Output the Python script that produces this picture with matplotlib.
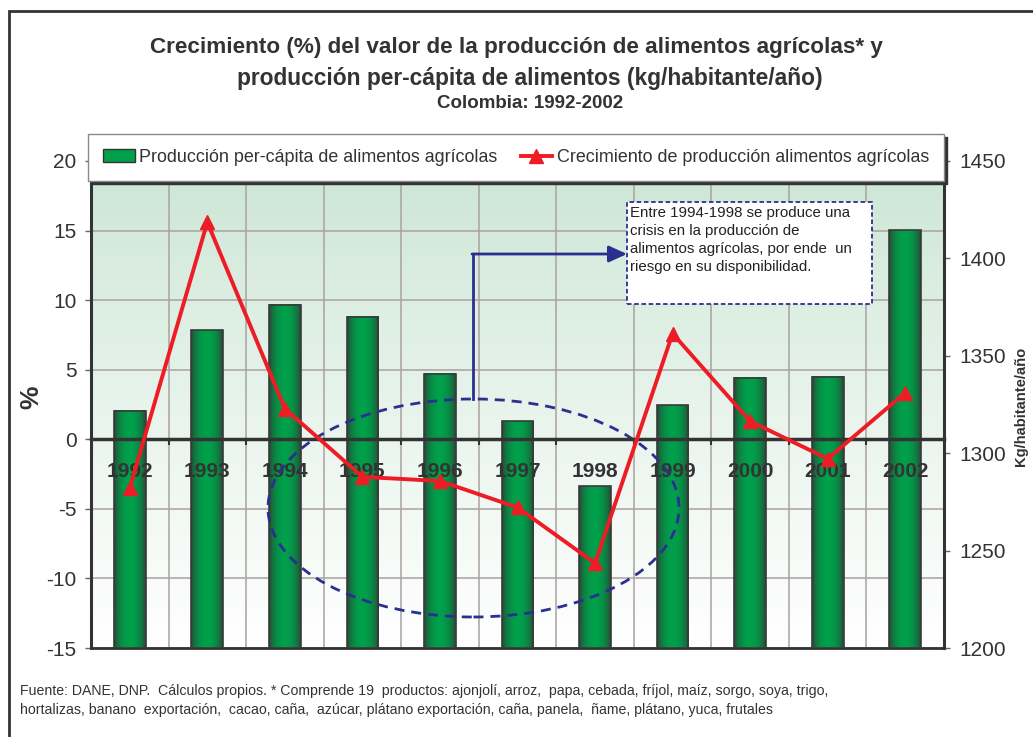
import numpy as np
import matplotlib.pyplot as plt
from matplotlib.patches import Rectangle, Ellipse, Patch
from matplotlib.lines import Line2D
from matplotlib.colors import to_rgb

plt.rcParams['font.family'] = ['Liberation Sans', 'DejaVu Sans']
plt.rcParams['axes.unicode_minus'] = False

# data
years = ['1992', '1993', '1994', '1995', '1996', '1997', '1998', '1999', '2000', '2001', '2002']
kg_per_capita = [1321.8, 1363.2, 1376.2, 1370.0, 1340.8, 1316.3, 1283.1, 1324.6, 1338.7, 1339.2, 1414.4]
growth_pct = [-3.5, 15.6, 2.2, -2.7, -3.0, -4.9, -8.9, 7.6, 1.3, -1.4, 3.35]

pct_ticks = list(range(-15, 21, 5))
kg_ticks = list(range(1200, 1451, 50))

title1 = 'Crecimiento (%) del valor de la producción de alimentos agrícolas* y'
title2 = 'producción per-cápita de alimentos (kg/habitante/año)'
subtitle = 'Colombia: 1992-2002'
bar_label = 'Producción per-cápita de alimentos agrícolas'
line_label = 'Crecimiento de producción alimentos agrícolas'
note = ('Entre 1994-1998 se produce una\ncrisis en la producción de\n'
        'alimentos agrícolas, por ende  un\nriesgo en su disponibilidad.')
source1 = ('Fuente: DANE, DNP.  Cálculos propios. * Comprende 19  productos: ajonjolí, arroz,  papa, '
           'cebada, fríjol, maíz, sorgo, soya, trigo,')
source2 = ('hortalizas, banano  exportación,  cacao, caña,  azúcar, plátano exportación, caña, panela,  '
           'ñame, plátano, yuca, frutales')

DARK = '#333333'
GREEN = '#00a04b'
RED = '#ee1c25'
NAVY = '#2b2f8f'

W, H = 1033, 737
fig = plt.figure(figsize=(W / 100, H / 100), dpi=100)


def fx(px):
    return px / W


def fy(py):
    return 1 - py / H


x = np.arange(len(years))

# --- bottom axes: % scale, background, grid
ax = fig.add_axes([fx(91), fy(648), fx(944) - fx(91), fy(161) - fy(648)])
t = np.linspace(0, 1, 256)[:, None] ** 0.85
grad = np.array(to_rgb('#cae5d3')) * (1 - t) + np.ones(3) * t
ax.imshow(grad.reshape(256, 1, 3), extent=[0, 1, 0, 1], transform=ax.transAxes,
          aspect='auto', zorder=-1)
ax.set_xlim(-0.5, len(years) - 0.5)
ax.set_ylim(-15, 20)
ax.set_yticks(pct_ticks)
ax.set_xticks([])
ax.set_xticks(np.arange(0.5, len(years) - 1, 1), minor=True)
ax.grid(axis='y', which='major', color='#aaa29e', lw=1.1)
ax.grid(axis='x', which='minor', color='#aaa29e', lw=1.1)
ax.set_axisbelow(True)
ax.tick_params(axis='x', which='both', bottom=False, labelbottom=False)
ax.tick_params(axis='y', length=4.3, width=1, color='#666', pad=6, labelsize=15, labelcolor=DARK)
ax.spines['top'].set_visible(False)
ax.spines['right'].set_visible(False)
ax.spines['left'].set(color=DARK, lw=2.2)
ax.spines['bottom'].set(color=DARK, lw=2)

# --- bars on the secondary (kg) axis
ax2 = ax.twinx()
bars = ax2.bar(x, np.array(kg_per_capita) - 1200, bottom=1200, width=0.41,
               facecolor='none', edgecolor='#3a3a3a', lw=1.2, zorder=3)
tt = np.linspace(0, 1, 64)
f = np.sin(np.pi * tt) ** 0.55
bar_grad = (np.array(to_rgb('#2e3a33'))[None, :] * (1 - f[:, None])
            + np.array(to_rgb(GREEN))[None, :] * f[:, None])
for b in bars:
    ax2.imshow(bar_grad.reshape(1, 64, 3), aspect='auto', interpolation='bilinear', zorder=2,
               extent=[b.get_x(), b.get_x() + b.get_width(), b.get_y(), b.get_y() + b.get_height()])
ax2.set_xlim(-0.5, len(years) - 0.5)
ax2.set_ylim(1200, 1450)
ax2.set_yticks(kg_ticks)
ax2.tick_params(axis='y', length=4.3, width=1, color='#666', pad=7, labelsize=15, labelcolor=DARK)
for s in ['top', 'left', 'bottom']:
    ax2.spines[s].set_visible(False)
ax2.spines['right'].set(color=DARK, lw=2.2)

# --- top axes: growth line, zero axis, year labels, annotations
ax3 = fig.add_axes(ax.get_position())
ax3.patch.set_visible(False)
ax3.set_xlim(-0.5, len(years) - 0.5)
ax3.set_ylim(-15, 20)
ax3.plot(x, growth_pct, color=RED, lw=2.8, marker='^', ms=10, zorder=5, clip_on=False)
for s in ['top', 'left', 'right']:
    ax3.spines[s].set_visible(False)
ax3.spines['bottom'].set_position(('data', 0))
ax3.spines['bottom'].set(color=DARK, lw=2.5, zorder=4)
ax3.set_yticks([])
ax3.set_xticks(x, labels=years, fontweight='bold')
ax3.set_xticks(np.arange(0.5, len(years) - 1, 1), minor=True)
ax3.tick_params(axis='x', which='major', length=0, pad=16, labelsize=15, labelcolor=DARK)
ax3.tick_params(axis='x', which='minor', length=4.5, width=1.5, color=DARK, direction='out')

ax3.add_patch(Ellipse((fx(473.5), fy(508)), 411 / W, 218 / H, transform=fig.transFigure,
                      fill=False, ec=NAVY, lw=2, ls=(0, (3.6, 2.5)), zorder=3, clip_on=False))
ax3.plot([fx(473), fx(473)], [fy(399), fy(254)], transform=fig.transFigure,
         color=NAVY, lw=2, zorder=3, clip_on=False)
ax3.annotate('', xy=(fx(627), fy(254)), xytext=(fx(472), fy(254)),
             xycoords='figure fraction', textcoords='figure fraction',
             arrowprops=dict(arrowstyle='-|>,head_length=0.55,head_width=0.25', color=NAVY,
                             lw=2, mutation_scale=20, shrinkA=0, shrinkB=0), zorder=3)
ax3.add_patch(Rectangle((fx(627), fy(304.5)), 245 / W, 102 / H, transform=fig.transFigure,
                        fc='white', ec=NAVY, lw=1.3, ls=(0, (2.5, 1.5)), zorder=6, clip_on=False))
ax3.text(fx(630), fy(206), note, transform=fig.transFigure, ha='left', va='top',
         fontsize=10.8, color='#222', linespacing=1.35, zorder=7)

# --- legend over the top of the plot area
handles = [Patch(facecolor=GREEN, edgecolor=DARK, label=bar_label),
           Line2D([], [], color=RED, lw=2.8, marker='^', ms=10, label=line_label)]
fig.legend(handles=handles, loc='center', ncol=2, mode='expand',
           bbox_to_anchor=(fx(88), fy(182), fx(944) - fx(88), fy(133) - fy(182)),
           fancybox=False, shadow={'color': DARK, 'alpha': 1}, edgecolor='#888', framealpha=1,
           fontsize=12.9, labelcolor=DARK, handlelength=1.75, handletextpad=0.25,
           borderpad=0.85, borderaxespad=0, columnspacing=1)

# --- titles, axis labels, footer
fig.text(fx(516), fy(47), title1, ha='center', va='center', fontsize=16.2, weight='bold', color=DARK)
fig.text(fx(530), fy(78), title2, ha='center', va='center', fontsize=16.4, weight='bold', color=DARK)
fig.text(fx(530), fy(104), subtitle, ha='center', va='center', fontsize=13.5, weight='bold', color=DARK)
fig.text(fx(31), fy(397), '%', rotation=90, ha='center', va='center', fontsize=19,
         weight='bold', color=DARK)
fig.text(fx(1021), fy(406), 'Kg/habitante/año', rotation=90, ha='center', va='center',
         fontsize=10.6, weight='bold', color=DARK)
fig.text(fx(20), fy(691), source1, ha='left', va='center', fontsize=10.2, color=DARK)
fig.text(fx(20), fy(710), source2, ha='left', va='center', fontsize=10.2, color=DARK)

# outer frame
fig.add_artist(Rectangle((fx(9), fy(H + 20)), 1.1, fy(11) - fy(H + 20), transform=fig.transFigure,
                         fill=False, ec=DARK, lw=2))

fig.savefig('out.png', dpi=100)
